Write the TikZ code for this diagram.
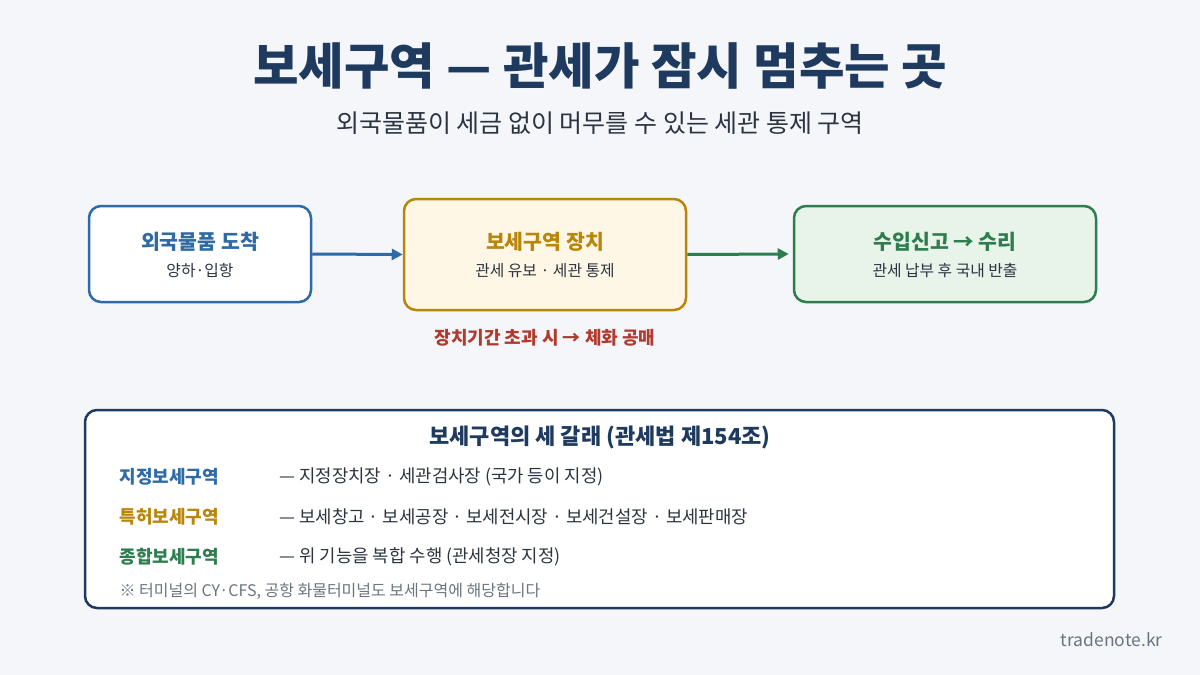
\documentclass[tikz,border=0pt]{standalone}
\usepackage{fontspec}
\setmainfont{Noto Sans CJK KR}
\usetikzlibrary{arrows.meta}
\definecolor{bg}{HTML}{F4F6FA}
\definecolor{navy}{HTML}{1F3A5F}
\definecolor{cblue}{HTML}{2E6AA6}
\definecolor{cgold}{HTML}{B8860B}
\definecolor{cgoldfill}{HTML}{FFF7E6}
\definecolor{cgreen}{HTML}{2E7D4F}
\definecolor{cgreenfill}{HTML}{E8F3EA}
\definecolor{cred}{HTML}{B03A2E}
\definecolor{ctext}{HTML}{2B3440}
\definecolor{cgray}{HTML}{6B7480}
\begin{document}
\begin{tikzpicture}[x=1pt,y=-1pt,
  stagebox/.style={draw,line width=2.5pt,rounded corners=12pt,inner sep=0pt},
  boxtitle/.style={font=\fontsize{20.5}{24}\selectfont\bfseries},
  boxsub/.style={font=\fontsize{15.8}{18}\selectfont,text=ctext},
  flow/.style={line width=3pt,-{Triangle[length=11pt,width=11pt]}},
  rowlabel/.style={anchor=west,font=\fontsize{18}{20}\selectfont\bfseries},
  rowtext/.style={anchor=west,font=\fontsize{17.8}{20}\selectfont,text=ctext}]
\fill[bg] (0,0) rectangle (1200,675);
\useasboundingbox (0,0) rectangle (1200,675);
% title
\node[text=navy,font=\fontsize{49.5}{54}\selectfont\bfseries] (title) at (600,66) {보세구역 — 관세가 잠시 멈추는 곳};
\node[text=ctext,font=\fontsize{25}{28}\selectfont] (subtitle) at (600,123) {외국물품이 세금 없이 머무를 수 있는 세관 통제 구역};
% stage boxes
\node[stagebox,draw=cblue,fill=white,minimum width=222pt,minimum height=96pt] (b1) at (200,254) {};
\node[stagebox,draw=cgold,fill=cgoldfill,minimum width=282pt,minimum height=111pt] (b2) at (545,254.5) {};
\node[stagebox,draw=cgreen,fill=cgreenfill,minimum width=302pt,minimum height=96pt] (b3) at (945,254) {};
\node[boxtitle,text=cblue] (b1t) at (200,242) {외국물품 도착};
\node[boxsub] (b1s) at (200,271) {양하·입항};
\node[boxtitle,text=cgold] (b2t) at (545,242) {보세구역 장치};
\node[boxsub] (b2s) at (545,271) {관세 유보 · 세관 통제};
\node[boxtitle,text=cgreen] (b3t) at (945,242) {수입신고 → 수리};
\node[boxsub] (b3s) at (945,271) {관세 납부 후 국내 반출};
\draw[flow,draw=cblue] (b1.east) -- (b2.west);
\draw[flow,draw=cgreen] (b2.east) -- ([xshift=-4pt]b3.west);
\node[text=cred,font=\fontsize{18}{22}\selectfont\bfseries] (warn) at (545,338) {장치기간 초과 시 → 체화 공매};
% bottom panel
\node[draw=navy,line width=2.5pt,fill=white,rounded corners=12pt,minimum width=1029pt,minimum height=198pt,inner sep=0pt] (panel) at (599.5,509) {};
\node[text=navy,font=\fontsize{22}{25}\selectfont\bfseries] (ph) at (600,437) {보세구역의 세 갈래 (관세법 제154조)};
\node[rowlabel,text=cblue] (l1) at (116,477) {지정보세구역};
\node[rowtext] (d1) at (276,477) {— 지정장치장 · 세관검사장 (국가 등이 지정)};
\node[rowlabel,text=cgold] (l2) at (116,517) {특허보세구역};
\node[rowtext] (d2) at (276,517) {— 보세창고 · 보세공장 · 보세전시장 · 보세건설장 · 보세판매장};
\node[rowlabel,text=cgreen] (l3) at (116,557) {종합보세구역};
\node[rowtext] (d3) at (276,557) {— 위 기능을 복합 수행 (관세청장 지정)};
\node[anchor=west,text=cgray,font=\fontsize{16}{18}\selectfont] (note) at (116,591) {※ 터미널의 CY·CFS, 공항 화물터미널도 보세구역에 해당합니다};
\node[anchor=east,text=cgray,font=\fontsize{17.5}{20}\selectfont] (foot) at (1166,640) {tradenote.kr};
\end{tikzpicture}
\end{document}
